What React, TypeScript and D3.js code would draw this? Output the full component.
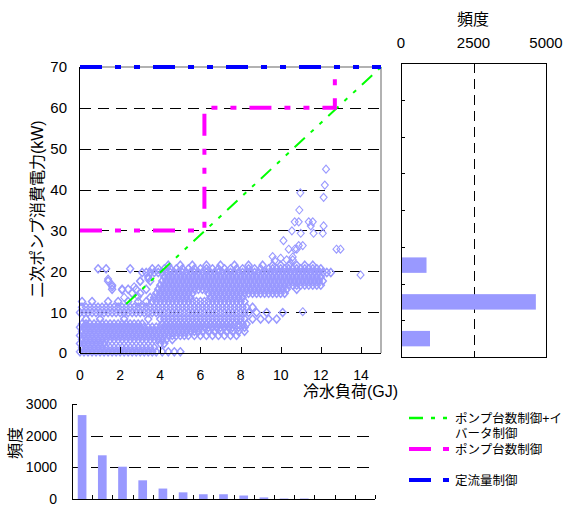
import React from 'react';
import * as d3 from 'd3';

// ---------- data ----------
const loadTicks = [0, 2, 4, 6, 8, 10, 12, 14];
const powerTicks = [0, 10, 20, 30, 40, 50, 60, 70];
const freqTopTicks = [0, 2500, 5000];
const freqLeftTicks = [0, 1000, 2000, 3000];

const kwBins = ['0-10', '10-20', '20-30', '30-40', '40-50', '50-60', '60-70', '70-80'];
const kwFreq = [1000, 4650, 880, 0, 0, 0, 0, 0];

const gjBins = ['0-1', '1-2', '2-3', '3-4', '4-5', '5-6', '6-7', '7-8', '8-9', '9-10', '10-11', '11-12', '12-13', '13-14', '14-15'];
const gjFreq = [2650, 1380, 1020, 590, 330, 210, 150, 150, 110, 50, 15, 15, 0, 0, 0];

const inverterLine: [number, number][] = [[2.3, 12], [15, 70]];
const stagingLine: [number, number][] = [[0, 30], [6.2, 30], [6.2, 60], [12.7, 60], [12.7, 70]];
const constantLine: [number, number][] = [[0, 70], [15, 70]];

// scatter: rows of [power kW, load GJ values]
const scatterRows: [number, number[]][] = [
  [0.3, [0, 0.2, 0.4, 0.6, 0.8, 1, 1.2, 1.4, 1.6, 1.8, 2, 2.2, 2.4, 2.6, 2.8, 3, 3.2, 3.4, 3.6, 3.8, 4.1, 4.4, 4.7, 5]],
  [1.3, [0.1, 0.3, 0.5, 0.7, 0.9, 1.1, 1.3, 1.5, 1.7, 1.9, 2.1, 2.3, 2.5, 2.7, 2.9, 3.1, 3.3, 3.5, 3.7]],
  [2.3, [0, 0.2, 0.4, 0.6, 0.8, 1, 1.2, 4, 4.2]],
  [3.3, [0.1, 0.3, 0.5, 0.7, 0.9, 1.1, 1.3, 1.5, 1.7, 1.9, 2.1, 2.3, 2.5, 2.7, 2.9, 3.1, 3.3, 3.5, 3.7, 3.9, 4.1, 4.3, 4.6]],
  [4.3, [0, 0.2, 0.4, 0.6, 0.8, 1, 1.2, 1.4, 1.6, 1.8, 2, 2.2, 2.4, 2.6, 2.8, 3, 3.2, 3.4, 3.6, 3.8, 4, 4.2, 4.4, 4.6, 4.8, 5, 5.2, 5.4, 5.7, 6, 6.3, 6.6, 6.9, 7.2, 7.5, 7.8]],
  [5.3, [0.1, 0.3, 0.5, 0.7, 0.9, 1.1, 1.3, 1.5, 1.7, 1.9, 2.1, 2.3, 2.5, 2.7, 2.9, 3.1, 3.3, 3.5, 3.7, 3.9, 4.1, 4.3, 4.5, 4.7, 4.9, 5.1, 5.3, 5.5, 5.7, 5.9, 6.1, 6.4, 6.7, 7, 7.3, 7.6, 7.9, 8.2]],
  [6.3, [0, 0.2, 0.4, 0.6, 0.8, 1, 1.2, 1.4, 1.6, 1.8, 2, 2.2, 2.4, 2.6, 2.8, 3, 3.2, 3.4, 3.6, 3.8, 4, 4.2, 4.4, 4.6, 4.8, 5, 5.2, 5.4, 5.6, 5.8, 6, 6.2, 6.4, 6.6, 6.8, 7, 7.2, 7.4, 7.6, 7.9, 8.2]],
  [7.1, [0.1, 0.3, 0.5, 0.7, 0.9, 1.1, 1.3, 1.5, 1.7, 1.9, 2.1, 2.3, 2.5, 2.7, 2.9, 3.1, 4.1, 4.3, 4.5, 4.7, 4.9, 5.1, 5.3, 5.5, 5.7, 5.9, 6.1, 6.3, 6.5, 6.7, 6.9, 7.1, 7.3, 7.5, 7.7, 7.9, 8.1, 8.3]],
  [8.3, [0.3, 1, 2.2, 3.4, 4, 4.2, 4.4, 4.6, 4.8, 5, 5.2, 5.4, 5.6, 5.8, 6, 6.2, 6.4, 6.6, 6.8, 7, 7.2, 7.4, 7.6, 7.8, 8, 8.2, 8.6, 9, 9.4, 9.8]],
  [9.9, [0, 0.2, 0.4, 0.6, 0.8, 1, 1.2, 1.4, 1.6, 1.8, 2, 2.2, 2.4, 2.6, 2.8, 3, 3.2, 3.4, 3.6, 3.8, 4, 4.2, 4.4, 4.6, 4.8, 5, 5.2, 5.4, 5.6, 5.8, 6, 6.2, 6.4, 6.6, 6.8, 7, 7.2, 7.4, 7.6, 7.8, 8, 8.2, 8.4, 8.8, 9.3, 10.1]],
  [11.2, [0.1, 0.3, 0.5, 0.7, 0.9, 1.1, 1.3, 1.5, 1.7, 1.9, 2.1, 2.3, 2.5, 2.7, 2.9, 3.1, 3.3, 3.5, 3.7, 3.9, 4.1, 4.3, 4.5, 4.7, 4.9, 5.1, 5.3, 5.5, 5.7, 5.9, 6.1, 6.3, 6.5, 6.7, 6.9, 7.1, 7.3, 7.5, 7.7, 7.9, 8.1, 8.3, 8.6]],
  [12.6, [0.1, 0.6, 1.4, 1.9, 2.4, 2.9, 3.3, 3.6, 3.8, 4, 4.2, 4.4, 4.6, 4.8, 5, 5.2, 5.4, 5.6, 5.8, 6, 6.2, 6.4, 6.6, 6.8, 7, 7.2, 7.4, 7.6, 7.8, 8, 8.2]],
  [13.6, [3.5, 3.7, 3.9, 4.1, 4.3, 4.5, 4.7, 4.9, 5.1, 5.3, 5.5, 6.5, 6.7, 6.9, 7.1, 7.3, 7.5, 7.7, 7.9, 8.1]],
  [14.6, [2.6, 3, 3.8, 4, 4.2, 4.4, 4.6, 4.8, 5, 5.2, 5.4, 5.6, 6.4, 6.6, 6.8, 7, 7.2, 7.4, 7.6, 7.8, 8, 8.2, 8.4, 8.6, 8.8, 9, 9.2, 9.4, 9.6, 9.8, 10, 10.2]],
  [15.6, [1.6, 2.1, 2.4, 2.8, 3.3, 3.9, 4.1, 4.3, 4.5, 4.7, 4.9, 5.1, 5.3, 5.5, 5.7, 5.9, 6.1, 6.3, 6.5, 6.7, 6.9, 7.1, 7.3, 7.5, 7.7, 7.9, 8.1, 8.3, 8.5, 8.7, 8.9, 9.1, 9.3, 9.5, 9.7, 9.9, 10.1, 10.3, 10.8]],
  [16.6, [1.6, 4, 4.2, 4.4, 4.6, 4.8, 5, 5.2, 5.4, 5.6, 5.8, 6, 6.2, 6.4, 6.6, 6.8, 7, 7.2, 7.4, 7.6, 7.8, 8, 8.2, 8.4, 8.6, 8.8, 9, 9.2, 9.4, 9.6, 9.8, 10, 10.2, 10.4, 10.6, 10.8, 11, 11.2, 11.4, 11.6, 11.8, 12]],
  [17.6, [1.4, 3, 3.5, 4.1, 4.3, 4.5, 4.7, 4.9, 5.1, 5.3, 5.5, 5.7, 5.9, 6.1, 6.3, 6.5, 6.7, 6.9, 7.1, 7.3, 7.5, 7.7, 7.9, 8.1, 8.3, 8.5, 8.7, 8.9, 9.1, 9.3, 9.5, 9.7, 9.9, 10.1, 10.3, 10.5, 10.7, 10.9, 11.1, 11.3, 11.5, 11.7, 11.9, 12.1]],
  [18.6, [3.4, 4.2, 4.4, 4.6, 4.8, 5, 5.2, 5.4, 5.6, 5.8, 6, 6.2, 6.4, 6.6, 6.8, 7, 7.2, 7.4, 7.6, 7.8, 8, 8.2, 8.4, 8.6, 8.8, 9, 9.2, 9.4, 9.6, 9.8, 10, 10.2, 10.4, 10.6, 10.8, 11, 11.2, 11.4, 11.6, 11.8, 12]],
  [19.7, [3.1, 3.3, 3.5, 3.7, 3.9, 4.1, 4.3, 4.5, 4.7, 4.9, 5.1, 5.3, 5.5, 5.7, 5.9, 6.1, 6.3, 6.5, 6.7, 6.9, 7.1, 7.3, 7.5, 7.7, 7.9, 8.1, 8.3, 8.5, 8.7, 8.9, 9.1, 9.3, 9.5, 9.7, 9.9, 10.1, 10.3, 10.5, 10.7, 10.9, 11.1, 11.3, 11.5, 11.7, 11.9, 12.1, 12.3, 12.5]],
  [20.6, [0.9, 1.3, 2.5, 3.6, 3.9, 4.2, 4.5, 4.8, 5.1, 5.4, 5.7, 6, 6.3, 6.6, 6.9, 7.2, 7.5, 7.8, 8.1, 8.4, 8.7, 9, 9.4, 9.6, 9.8, 10, 10.2, 10.4, 10.6, 10.8, 11, 11.2, 11.4, 11.6, 11.8, 12]],
  [21.5, [4.4, 5, 5.6, 6.3, 7, 7.7, 8.4, 9.1, 9.6, 10, 10.4, 10.8, 11.2, 11.6]],
];

const scatterExtra: [number, number][] = [
  [1.4, 18.1], [1.6, 16.2], [2.1, 15.4], [2.7, 16.2], [3.0, 17.5], [3.4, 18.1], [2.2, 13.6], [2.9, 13.8],
  [12.26, 45.0], [12.2, 41.1], [12.14, 38.1], [10.98, 39.2], [10.93, 35.0], [10.7, 32.1], [10.9, 32.1],
  [11.4, 32.1], [11.6, 32.1], [11.5, 31.1], [12.14, 31.1], [10.56, 29.9], [11.0, 29.3], [11.64, 29.3],
  [12.1, 29.3], [10.14, 27.5], [12.78, 25.4], [12.98, 25.4], [10.4, 25.4], [10.7, 25.4], [10.8, 25.4],
  [10.9, 26.3], [11.1, 26.3], [10.6, 23.5], [10.3, 22.8], [10.6, 22.8], [13.98, 19.1], [11.1, 10.1],
  [9.7, 22.6], [10.0, 23.2], [10.5, 21.9], [9.6, 23.6],
];

// ---------- component ----------
const FONT = "'Liberation Sans', Arial, 'Noto Sans CJK JP', sans-serif";
const PURPLE = '#9999ff';

export default function App() {
  const x = d3.scaleLinear().domain([0, 15]).range([80, 381]);
  const y = d3.scaleLinear().domain([0, 70]).range([353, 67]);
  const fx = d3.scaleLinear().domain([0, 5000]).range([401, 546]);
  const fy = d3.scaleBand<string>().domain(kwBins).range([357, 63]);
  const bx = d3.scaleBand<string>().domain(gjBins).range([72, 375]);
  const by = d3.scaleLinear().domain([0, 3000]).range([499, 404]);
  const line = d3.line<[number, number]>().x(d => x(d[0])).y(d => y(d[1]));

  const rowPoints: [number, number][] = scatterRows
    .flatMap(([pv, xs]) => xs.map(lv => [lv, pv] as [number, number]));

  const diamond = (cx: number, cy: number) =>
    `M${cx},${cy - 4}L${cx + 3.5},${cy}L${cx},${cy + 4}L${cx - 3.5},${cy}Z`;

  const pumpDash = '22 13 6 13 6 13';
  const invDash = '14 8 4 8 4 8';

  const fyStep = fy.step();
  const fBoundaries = d3.range(kwBins.length + 1).map(i => 357 - i * fyStep);
  const bStep = bx.step();
  const bBoundaries = d3.range(gjBins.length + 1).map(i => 72 + i * bStep);

  return (
    <svg width={563} height={506} style={{ position: 'absolute', left: 0, top: 0, background: '#fff' }} fontFamily={FONT}>
      <rect x={0} y={0} width={563} height={506} fill="#fff" />

      {/* main plot gridlines */}
      {powerTicks.filter(t => t > 0 && t < 70).map(t => (
        <line key={'g' + t} x1={x(0)} x2={x(15)} y1={Math.round(y(t)) + 0.5} y2={Math.round(y(t)) + 0.5}
          stroke="#000" strokeWidth={1} strokeDasharray="11 7" />
      ))}

      {/* scatter */}
      <g fill="none" stroke={PURPLE} strokeWidth={1.5}>
        {rowPoints.map((p, i) => (
          <path key={'r' + i} d={diamond(x(p[0]), y(p[1]))} />
        ))}
      </g>
      <g fill="none" stroke={PURPLE} strokeWidth={1.1}>
        {scatterExtra.map((p, i) => (
          <path key={'e' + i} d={diamond(x(p[0]), y(p[1]))} />
        ))}
      </g>

      {/* frame */}
      <line x1={x(15)} x2={x(15)} y1={y(70)} y2={y(0)} stroke="#999" strokeWidth={1.5} />
      <line x1={x(0)} x2={x(15)} y1={y(70)} y2={y(70)} stroke="#999" strokeWidth={1.5} />
      <line x1={x(0) - 0.5} x2={x(0) - 0.5} y1={y(70)} y2={y(0)} stroke="#000" strokeWidth={1} />
      <line x1={x(0)} x2={x(15)} y1={y(0) + 0.5} y2={y(0) + 0.5} stroke="#000" strokeWidth={1} />
      {loadTicks.map(t => (
        <line key={'xt' + t} x1={Math.round(x(t)) + 0.5} x2={Math.round(x(t)) + 0.5} y1={y(0)} y2={y(0) - 6} stroke="#000" />
      ))}

      {/* control lines */}
      <path d={line(inverterLine) || ''} fill="none" stroke="#00ff00" strokeWidth={2} strokeDasharray={invDash} />
      <path d={line(stagingLine) || ''} fill="none" stroke="#ff00ff" strokeWidth={4} strokeDasharray={pumpDash} />
      <path d={line(constantLine) || ''} fill="none" stroke="#0000ff" strokeWidth={4} strokeDasharray={pumpDash} />

      {/* main axis labels */}
      {powerTicks.map(t => (
        <text key={'yl' + t} x={67} y={y(t)} dy="0.36em" textAnchor="end" fontSize={15}>{t}</text>
      ))}
      {loadTicks.map(t => (
        <text key={'xl' + t} x={x(t)} y={380} textAnchor="middle" fontSize={14}>{t}</text>
      ))}
      <text x={398} y={397} textAnchor="end" fontSize={16}>冷水負荷(GJ)</text>
      <text transform={`translate(37,209) rotate(-90)`} textAnchor="middle" dy="0.36em" fontSize={16}>二次ポンプ消費電力(kW)</text>

      {/* right histogram */}
      <text x={473} y={19} textAnchor="middle" dy="0.36em" fontSize={16}>頻度</text>
      {freqTopTicks.map(t => (
        <text key={'ft' + t} x={fx(t)} y={48} textAnchor="middle" fontSize={15}>{t}</text>
      ))}
      <line x1={Math.round(fx(2500)) + 0.5} x2={Math.round(fx(2500)) + 0.5} y1={63} y2={357} stroke="#000" strokeDasharray="10 6" />
      {kwBins.map((b, i) => {
        const h = fy.bandwidth() * 0.42;
        const cy = (fy(b) as number) + fy.bandwidth() / 2;
        return kwFreq[i] > 0 ? (
          <rect key={'fb' + b} x={fx(0)} y={cy - h / 2} width={fx(kwFreq[i]) - fx(0)} height={h} fill={PURPLE} />
        ) : null;
      })}
      <rect x={401.5} y={63.5} width={145} height={294} fill="none" stroke="#000" strokeWidth={1} />
      {fBoundaries.map((v, i) => (
        <line key={'fl' + i} x1={401} x2={405} y1={Math.round(v) + 0.5} y2={Math.round(v) + 0.5} stroke="#000" />
      ))}

      {/* bottom histogram */}
      {freqLeftTicks.filter(t => t > 0 && t < 3000).map(t => (
        <line key={'bg' + t} x1={72} x2={375} y1={Math.round(by(t)) + 0.5} y2={Math.round(by(t)) + 0.5}
          stroke="#000" strokeDasharray="12 7" />
      ))}
      {gjBins.map((b, i) => {
        const w = bx.bandwidth() * 0.43;
        const cx = (bx(b) as number) + bx.bandwidth() / 2;
        return gjFreq[i] > 0 ? (
          <rect key={'bb' + b} x={cx - w / 2} y={by(gjFreq[i])} width={w} height={by(0) - by(gjFreq[i])} fill={PURPLE} />
        ) : null;
      })}
      <line x1={72.5} x2={72.5} y1={by(3000)} y2={by(0)} stroke="#000" />
      <line x1={72} x2={375} y1={by(0) + 0.5} y2={by(0) + 0.5} stroke="#000" />
      {freqLeftTicks.map(t => (
        <line key={'blt' + t} x1={72} x2={77} y1={Math.round(by(t)) + 0.5} y2={Math.round(by(t)) + 0.5} stroke="#000" />
      ))}
      {bBoundaries.map((v, i) => (
        <line key={'bbt' + i} x1={Math.round(v) + 0.5} x2={Math.round(v) + 0.5} y1={by(0)} y2={by(0) - 4} stroke="#000" />
      ))}
      {freqLeftTicks.map(t => (
        <text key={'bl' + t} x={57} y={by(t)} dy="0.36em" textAnchor="end" fontSize={14}>{t}</text>
      ))}
      <text transform={`translate(15,443) rotate(-90)`} textAnchor="middle" dy="0.36em" fontSize={16}>頻度</text>

      {/* legend */}
      <line x1={409} x2={448} y1={418} y2={418} stroke="#00ff00" strokeWidth={2.5} strokeDasharray="14 8 4 8 4 8" />
      <text x={455} y={418} dy="0.36em" fontSize={12.5}>ポンプ台数制御+イ</text>
      <text x={455} y={433} dy="0.36em" fontSize={12.5}>バータ制御</text>
      <line x1={409} x2={449} y1={449} y2={449} stroke="#ff00ff" strokeWidth={4} strokeDasharray="22 12 6 12" />
      <text x={455} y={449} dy="0.36em" fontSize={12.5}>ポンプ台数制御</text>
      <line x1={409} x2={449} y1={480} y2={480} stroke="#0000ff" strokeWidth={4} strokeDasharray="22 12 6 12" />
      <text x={455} y={480} dy="0.36em" fontSize={12.5}>定流量制御</text>
    </svg>
  );
}
